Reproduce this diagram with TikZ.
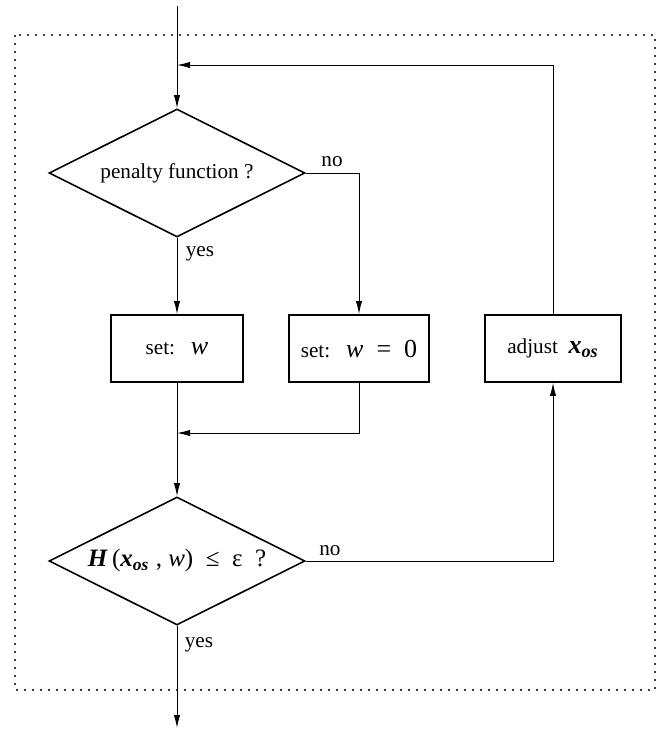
\documentclass[tikz,border=0pt]{standalone}
\usepackage{fontspec}
\setmainfont{Liberation Serif}
\usetikzlibrary{shapes.geometric,arrows.meta}
\newcommand{\bx}[1]{\textbf{\textit{#1}}}
\begin{document}
\begin{tikzpicture}[x=0.5pt,y=-0.5pt,
  txt/.style={font=\fontsize{10.6}{12}\selectfont},
  mtxt/.style={font=\fontsize{12.5}{14}\selectfont},
  decision/.style={draw, line width=0.8pt, diamond, minimum width=128pt, minimum height=64pt, inner sep=0pt, aspect=2},
  procbox/.style={draw, line width=0.9pt, rectangle, minimum height=33.5pt, inner sep=0pt},
  conn/.style={line width=0.5pt, -{Latex[length=6.5pt,width=3.2pt]}},
  lbl/.style={inner sep=0pt, font=\fontsize{10.6}{12}\selectfont},
  frame/.style={line width=0.65pt, black!75, dash pattern=on 0.8pt off 3.2pt}
]
\useasboundingbox (0,0) rectangle (660,730);
\draw[frame] (15,35) rectangle (655,690);

% nodes
\node[decision, txt] (pen) at (177,173) {penalty function ?};
\node[procbox, minimum width=66pt, txt] (setw) at (177,348.5) {set:\ \ \ {\fontsize{13}{14}\selectfont\textit{w}}};
\node[procbox, minimum width=70pt, txt] (setz) at (359,348.5) {set:\ \ \ {\fontsize{13}{14}\selectfont\textit{w}\ \ =\ \ 0}};
\node[procbox, minimum width=68pt, txt] (adj) at (553,348.5) {adjust\ \ {\fontsize{13}{14}\selectfont\bx{x}\textsubscript{\bx{os}}}};
\node[decision, mtxt] (ham) at (177,561) {\raisebox{3pt}{\bx{H}\,(\bx{x}\textsubscript{\bx{os}} , \textit{w})\ \ ≤\ \ ε\ \ ?}};

% coordinates
\coordinate (start) at (177,6);
\coordinate (fin) at (177,728);
\coordinate (fb) at (177,65);
\coordinate (merge) at (177,433);

% connectors
\draw[conn] (start) -- (pen.north);
\draw[conn] (pen.south) -- (setw.north);
\draw[conn] (pen.east) -| (setz.north);
\draw[conn] (setw.south) -- (ham.north);
\draw[conn] (setz.south) |- (merge);
\draw[conn] (ham.east) -| (adj.south);
\draw[conn] (adj.north) |- (fb);
\draw[conn] (ham.south) -- (fin);

% labels
\node[lbl] (no1) at (332,162) {no};
\node[lbl] (yes1) at (200,254) {yes};
\node[lbl] (no2) at (330,551) {no};
\node[lbl] (yes2) at (199,645) {yes};
\end{tikzpicture}
\end{document}
